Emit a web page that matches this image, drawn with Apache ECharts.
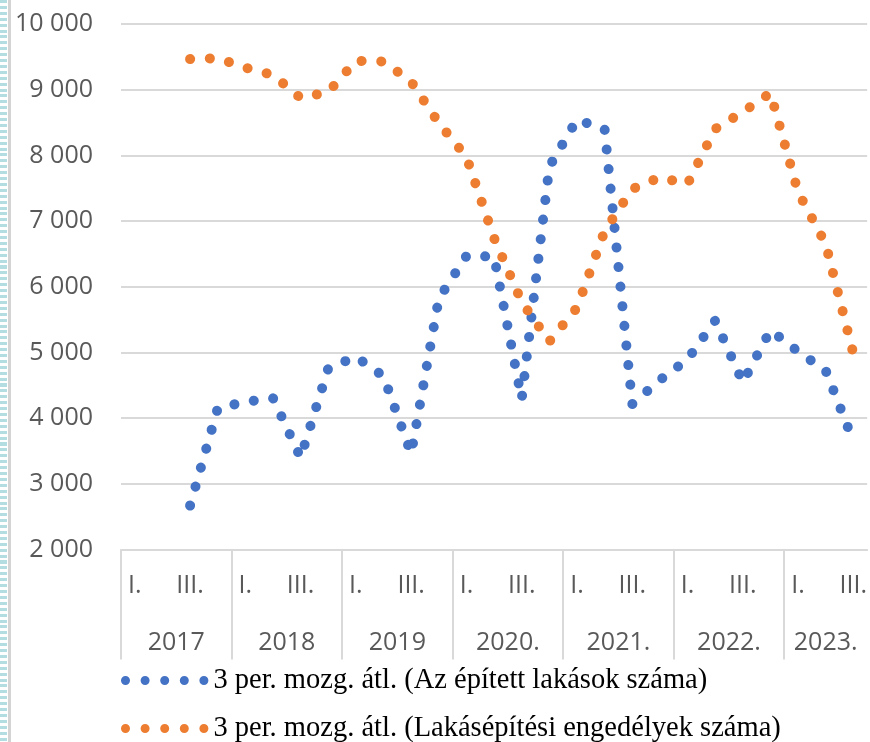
<!DOCTYPE html>
<html>
<head>
<meta charset="utf-8">
<script src="https://cdn.jsdelivr.net/npm/echarts@6/dist/echarts.min.js"></script>
<style>
  html, body { margin: 0; padding: 0; background: #ffffff; }
  #stripe { position: absolute; left: 0; top: 0; width: 7px; height: 742px;
    background: repeating-linear-gradient(to bottom, #b3dde1 0px, #b3dde1 3px, #ffffff 3px, #ffffff 5.9px); }
  #edge { position: absolute; left: 8px; top: 0; width: 2.5px; height: 742px; background: #d4d4d4; }
  #chart { position: absolute; left: 0; top: 0; width: 870px; height: 742px; }
</style>
</head>
<body>
<div id="stripe"></div>
<div id="edge"></div>
<div id="chart"></div>
<script>
// ---- data ----
const years = ['2017', '2018', '2019', '2020.', '2021.', '2022.', '2023.'];
const quarterNames = ['I.', 'II.', 'III.', 'IV.'];
const quartersPerYear = [4, 4, 4, 4, 4, 4, 3];
// 3-period moving averages, from 2017 Q3 to 2023 Q3
const builtHomes = [2670, 4150, 4250, 4305, 3400, 4760, 4935, 4640, 3460, 5820,
  6470, 6460, 4290, 7830, 8545, 8400, 4215, 4580, 4895, 5485, 4545, 5340, 5015, 4725, 3650];
const permits = [9467, 9479, 9336, 9224, 8874, 8965, 9440, 9430, 9123, 8493,
  7976, 6740, 5770, 5167, 5682, 6849, 7489, 7665, 7565, 8402, 8661, 8950, 7443, 6651, 4983];
const seriesNames = ['3 per. mozg. átl. (Az épített lakások száma)',
  '3 per. mozg. átl. (Lakásépítési engedélyek száma)'];
const yTicks = [2000, 3000, 4000, 5000, 6000, 7000, 8000, 9000, 10000];

// ---- build ----
const categories = [];
const yearStart = [];
const yearCenter = [];
quartersPerYear.forEach((n) => {
  yearStart.push(categories.length);
  yearCenter.push(categories.length + n / 2);
  for (let q = 0; q < n; q++) categories.push(quarterNames[q]);
});
const lead = categories.length - builtHomes.length;
const pad = arr => Array(lead).fill(null).concat(arr);

const dotIcon = (() => {
  let p = 'path://';
  for (let i = 0; i < 5; i++) {
    const cx = 4.5 + i * 19.6;
    p += 'M' + (cx - 4.5) + ',4.5a4.5,4.5 0 1,0 9,0a4.5,4.5 0 1,0 -9,0Z';
  }
  return p;
})();

const fmt = v => String(v).replace(/\B(?=(\d{3})+(?!\d))/g, ' ');
const axisFont = { fontFamily: 'Open Sans', fontSize: 25, color: '#595959' };
const legendBase = {
  orient: 'horizontal',
  left: 116,
  itemWidth: 87.4,
  itemHeight: 9,
  itemGap: 10,
  textStyle: { fontFamily: 'Liberation Serif', fontSize: 28.5, color: '#000000' }
};

const chart = echarts.init(document.getElementById('chart'), null, { renderer: 'canvas' });
chart.setOption({
  animation: false,
  backgroundColor: 'transparent',
  grid: { left: 121, top: 24, width: 750.6, height: 525.6, containLabel: false },
  legend: [
    Object.assign({}, legendBase, { top: 661, data: [{ name: seriesNames[0], icon: dotIcon }] }),
    Object.assign({}, legendBase, { top: 709, data: [{ name: seriesNames[1], icon: dotIcon }] })
  ],
  xAxis: [
    {
      type: 'category',
      data: categories,
      boundaryGap: true,
      axisLine: { show: true, lineStyle: { color: '#d9d9d9', width: 2 } },
      axisTick: { show: false },
      axisLabel: Object.assign({ interval: 1, margin: 24 }, axisFont),
      splitLine: { show: false }
    },
    {
      type: 'value',
      position: 'bottom',
      min: 0,
      max: categories.length,
      axisLine: { show: false },
      axisTick: {
        show: true,
        customValues: yearStart,
        length: 110,
        lineStyle: { color: '#d9d9d9', width: 2 }
      },
      axisLabel: Object.assign({
        customValues: yearCenter,
        margin: 81,
        formatter: v => years[yearCenter.indexOf(v)]
      }, axisFont),
      splitLine: { show: false }
    }
  ],
  yAxis: {
    type: 'value',
    min: yTicks[0],
    max: yTicks[yTicks.length - 1],
    interval: 1000,
    axisLine: { show: false },
    axisTick: { show: false },
    axisLabel: Object.assign({ margin: 28, formatter: fmt }, axisFont),
    splitLine: { lineStyle: { color: '#d9d9d9', width: 2 } }
  },
  series: [
    {
      name: seriesNames[0],
      type: 'line',
      xAxisIndex: 0,
      data: pad(builtHomes),
      color: '#4472C4',
      symbol: 'none',
      lineStyle: { width: 10, type: [0.1, 19.6], cap: 'round', color: '#4472C4' }
    },
    {
      name: seriesNames[1],
      type: 'line',
      xAxisIndex: 0,
      data: pad(permits),
      color: '#ED7D31',
      symbol: 'none',
      lineStyle: { width: 10, type: [0.1, 19.6], cap: 'round', color: '#ED7D31' }
    }
  ]
});
</script>
</body>
</html>
